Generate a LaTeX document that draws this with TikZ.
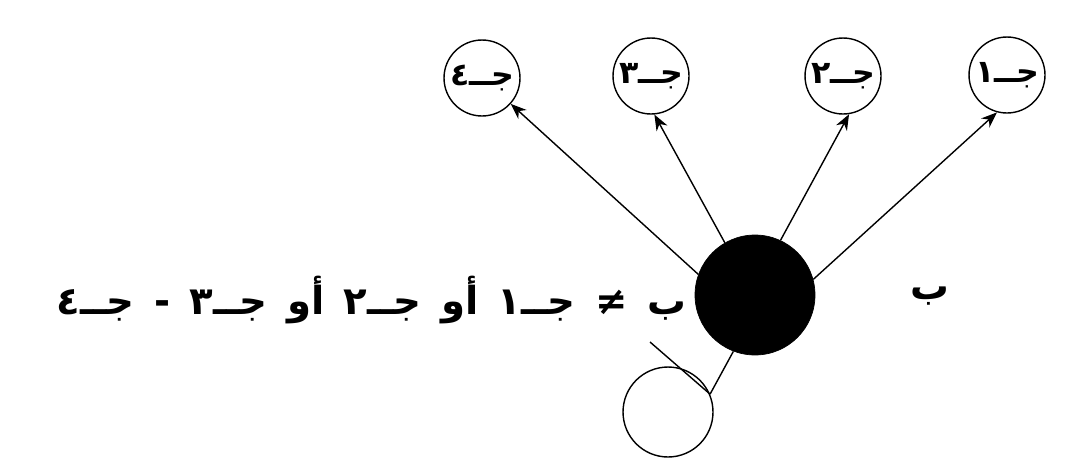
\documentclass[tikz,border=0pt]{standalone}
\usepackage{fontspec}
\usepackage{tikz}
\usetikzlibrary{arrows.meta}
\TeXXeTstate=1
\newfontfamily\arabicfont[Script=Arabic]{DejaVu Sans}
\newcommand{\gap}{\hspace{0.12cm} }

\begin{document}
\begin{tikzpicture}[
    x=0.02cm, y=-0.02cm,
    cl/.style={draw, circle, thick, inner sep=0pt, minimum size=1.52cm,
               font=\arabicfont\fontsize{18}{22}\selectfont\bfseries},
    arr/.style={-{Stealth[length=9pt, width=7pt]}, thick},
    lbl/.style={font=\arabicfont\fontsize{22}{26}\selectfont\bfseries},
]
    \useasboundingbox (0, 0) rectangle (1084, 460);

    \node[cl] (c4) at (482, 78)  {\beginR جــ٤\endR};
    \node[cl] (c3) at (651, 76)  {\beginR جــ٣\endR};
    \node[cl] (c2) at (843, 76)  {\beginR جــ٢\endR};
    \node[cl] (c1) at (1007, 75) {\beginR جــ١\endR};

    \node[draw, circle, fill=black, minimum size=2.4cm] (b) at (755, 295) {};
    \node[draw, circle, thick, minimum size=1.8cm] (w) at (668, 412) {};
    \coordinate (tick) at (650, 342);

    \draw[arr] (b.160) -- (c4.-42);
    \draw[arr] (b.120) -- (c3.-85);
    \draw[arr] (b.65)  -- (c2.-81);
    \draw[arr] (b.15)  -- (c1.-105);
    \draw[thick] (b.-111) -- (w.23);
    \draw[thick] (tick) -- (w.23);

    \node[lbl] (bl) at (930, 296) {\beginR ب\endR};
    \node[lbl, anchor=east] (cond) at (692, 300)
        {\beginR ب\gap{}≠\gap{}جــ١\gap{}أو\gap{}جــ٢\gap{}أو\gap{}جــ٣\gap{}-\gap{}جــ٤\endR};
\end{tikzpicture}
\end{document}
